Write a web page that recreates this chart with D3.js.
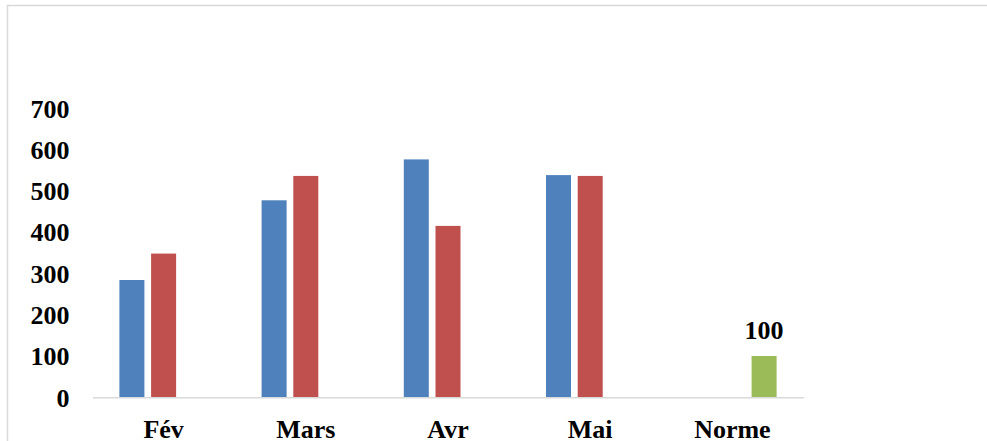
<!DOCTYPE html>
<html>
<head>
<meta charset="utf-8">
<script src="https://cdn.jsdelivr.net/npm/d3@7"></script>
<style>
  html, body { margin: 0; padding: 0; background: #fff; }
  svg { display: block; }
  text { font-family: "Liberation Serif", "Times New Roman", serif; font-weight: bold; fill: #000; }
</style>
</head>
<body>
<svg id="chart" width="987" height="441"></svg>
<script>
// Monthly values per series, plus the reference norm
const categories = ["Fév", "Mars", "Avr", "Mai", "Norme"];
const seriesNames = ["Série 1", "Série 2", "Norme"];
const serie1 = [284, 477, 576, 538, null];
const serie2 = [348, 536, 415, 536, null];
const norme  = [null, null, null, null, 100];
const yTicks = [0, 100, 200, 300, 400, 500, 600, 700];
const colors = ["#4F81BD", "#C0504D", "#9BBB59"];

const svg = d3.select("#chart");
const W = 987, H = 441;

// chart frame (cut at the right and bottom edges)
svg.append("path")
  .attr("d", `M7.5,${H + 2} V5.5 H${W + 2}`)
  .attr("fill", "none")
  .attr("stroke", "#d9d9d9")
  .attr("stroke-width", 1.5);

const plot = { left: 92.5, right: 803.5, top: 108.2, bottom: 397.3 };

const x0 = d3.scaleBand().domain(categories).range([plot.left, plot.right]).padding(0);
const x1 = d3.scaleBand().domain(seriesNames)
  .range([26.9, x0.bandwidth() - 26.9])
  .paddingInner(0.211).paddingOuter(0);
const y = d3.scaleLinear().domain([0, 700]).range([plot.bottom, plot.top]);

const rows = [];
const allSeries = [serie1, serie2, norme];
categories.forEach((c, i) => {
  allSeries.forEach((s, j) => {
    if (s[i] != null) rows.push({ cat: c, name: seriesNames[j], value: s[i], color: colors[j] });
  });
});

svg.append("g").selectAll("rect")
  .data(rows)
  .join("rect")
  .attr("x", d => x0(d.cat) + x1(d.name))
  .attr("y", d => y(d.value))
  .attr("width", x1.bandwidth())
  .attr("height", d => y(0) - y(d.value))
  .attr("fill", d => d.color);

// value label on the norm bar
svg.append("g").selectAll("text")
  .data(rows.filter(d => d.name === "Norme"))
  .join("text")
  .attr("x", d => x0(d.cat) + x1(d.name) + x1.bandwidth() / 2)
  .attr("y", d => y(d.value) - 17.5)
  .attr("text-anchor", "middle")
  .attr("font-size", 26)
  .text(d => d.value);

// category axis
const xAxis = svg.append("g")
  .attr("transform", `translate(0,${plot.bottom})`)
  .call(d3.axisBottom(x0).tickSize(0).tickPadding(0));
xAxis.select(".domain").attr("stroke", "#d9d9d9").attr("stroke-width", 1.5);
xAxis.selectAll("text")
  .attr("font-size", 26)
  .attr("font-family", "Liberation Serif, Times New Roman, serif")
  .attr("font-weight", "bold")
  .attr("fill", "#000")
  .attr("dy", null)
  .attr("y", 40.5);

// value axis (labels only)
const yAxis = svg.append("g")
  .attr("transform", `translate(${plot.left},0)`)
  .call(d3.axisLeft(y).tickValues(yTicks).tickSize(0).tickPadding(23));
yAxis.select(".domain").remove();
yAxis.selectAll("text")
  .attr("font-size", 26)
  .attr("font-family", "Liberation Serif, Times New Roman, serif")
  .attr("font-weight", "bold")
  .attr("fill", "#000")
  .attr("dy", "0.34em");
</script>
</body>
</html>
